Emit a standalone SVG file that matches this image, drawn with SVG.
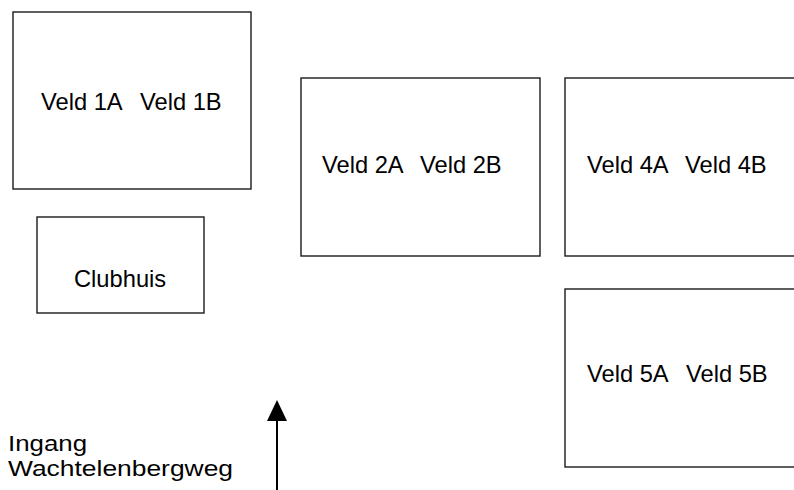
<svg xmlns="http://www.w3.org/2000/svg" width="794" height="490" viewBox="0 0 794 490">
  <style>
    .box { fill: #ffffff; stroke: #1a1a1a; stroke-width: 1.4; }
    .lbl { font-family: "Liberation Sans", Arial, sans-serif; font-size: 23.7px; fill: #000000; }
    .big { font-family: "Liberation Sans", Arial, sans-serif; font-size: 22px; fill: #000000; }
    .conn { stroke: #000000; stroke-width: 2; fill: none; }
  </style>
  <defs>
    <marker id="arrow" markerUnits="userSpaceOnUse" markerWidth="22" markerHeight="24" refX="0" refY="10" orient="auto" viewBox="0 0 22 20">
      <polygon points="0,0 21,10 0,20" fill="#000000"/>
    </marker>
  </defs>
  <rect x="0" y="0" width="794" height="490" fill="#ffffff"/>

  <g id="veld1">
    <rect class="box" x="13" y="12" width="238" height="177"/>
    <text class="lbl" y="110"><tspan x="41">Veld 1A</tspan><tspan x="140">Veld 1B</tspan></text>
  </g>

  <g id="veld2">
    <rect class="box" x="301" y="78" width="239" height="178"/>
    <text class="lbl" y="173"><tspan x="322">Veld 2A</tspan><tspan x="420">Veld 2B</tspan></text>
  </g>

  <g id="veld4">
    <rect class="box" x="565" y="78" width="240" height="178"/>
    <text class="lbl" y="173"><tspan x="587">Veld 4A</tspan><tspan x="685">Veld 4B</tspan></text>
  </g>

  <g id="veld5">
    <rect class="box" x="565" y="289" width="240" height="178"/>
    <text class="lbl" y="382"><tspan x="587">Veld 5A</tspan><tspan x="686">Veld 5B</tspan></text>
  </g>

  <g id="clubhuis">
    <rect class="box" x="37" y="217" width="167" height="96"/>
    <text class="lbl" x="74" y="287">Clubhuis</text>
  </g>

  <g id="ingang">
    <text class="big" x="8" y="451" textLength="79" lengthAdjust="spacingAndGlyphs">Ingang</text>
    <text class="big" x="8" y="476" textLength="225" lengthAdjust="spacingAndGlyphs">Wachtelenbergweg</text>
  </g>

  <g id="connectors">
    <line class="conn" x1="277" y1="490" x2="277" y2="421" marker-end="url(#arrow)"/>
  </g>
</svg>
